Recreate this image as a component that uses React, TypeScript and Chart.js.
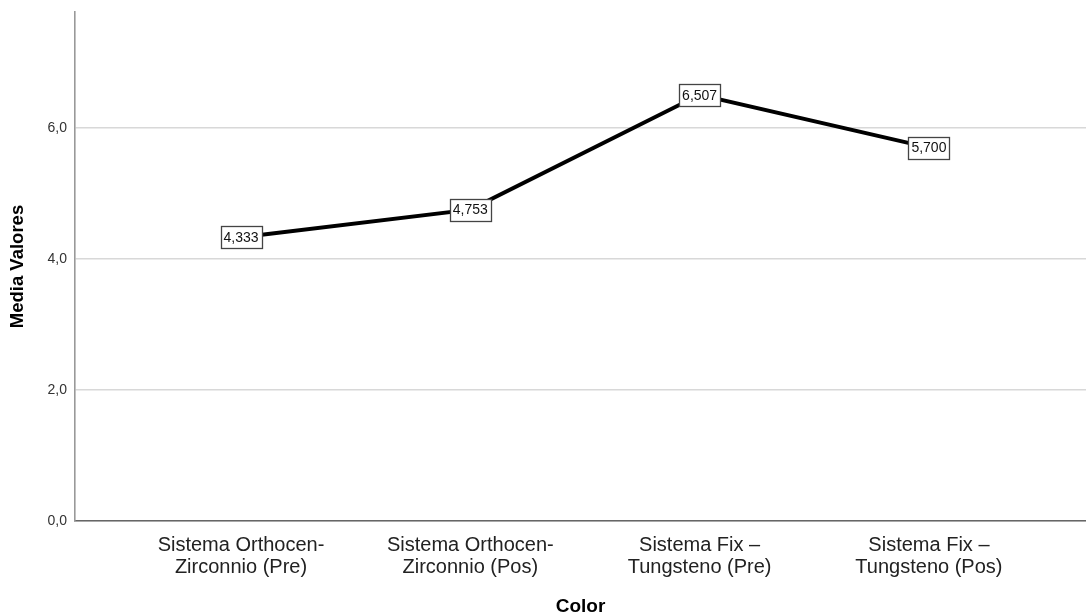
import React, { useEffect, useRef } from "react";
import { Chart, registerables } from "chart.js";

Chart.register(...registerables);

const categories: string[][] = [
  ["Sistema Orthocen-", "Zirconnio (Pre)"],
  ["Sistema Orthocen-", "Zirconnio (Pos)"],
  ["Sistema Fix –", "Tungsteno (Pre)"],
  ["Sistema Fix –", "Tungsteno (Pos)"],
];
const meanValues: number[] = [4.333, 4.753, 6.507, 5.7];
const yTickValues: number[] = [0, 2, 4, 6];
const xAxisTitle = "Color";
const yAxisTitle = "Media Valores";

const FONT = "'Liberation Sans', Arial, sans-serif";

const fmt = (v: number, d: number) => v.toFixed(d).replace(".", ",");

const labelBoxPlugin = {
  id: "labelBoxes",
  afterDatasetsDraw(chart: any) {
    const ctx = chart.ctx;
    const meta = chart.getDatasetMeta(0);
    ctx.save();
    ctx.font = `14px ${FONT}`;
    ctx.textAlign = "center";
    ctx.textBaseline = "middle";
    meta.data.forEach((pt: any, i: number) => {
      const text = fmt(meanValues[i], 3);
      const w = Math.ceil(ctx.measureText(text).width) + 5;
      const h = 22;
      const x = Math.round(pt.x - w / 2) + 0.5;
      const y = Math.round(pt.y - h / 2) + 0.5;
      ctx.fillStyle = "#ffffff";
      ctx.fillRect(x, y, w, h);
      ctx.strokeStyle = "#444444";
      ctx.lineWidth = 1.3;
      ctx.strokeRect(x, y, w, h);
      ctx.fillStyle = "#111111";
      ctx.fillText(text, pt.x, pt.y + 1);
    });
    ctx.restore();
  },
};

export default function App() {
  const ref = useRef<HTMLCanvasElement>(null);
  useEffect(() => {
    if (!ref.current) return;
    const chart = new Chart(ref.current, {
      type: "line",
      data: {
        datasets: [
          {
            data: meanValues.map((v, i) => ({ x: i, y: v })),
            borderColor: "#000000",
            borderWidth: 4,
            pointRadius: 0,
            tension: 0,
            fill: false,
          },
        ],
      },
      options: {
        animation: false,
        responsive: false,
        layout: { padding: { top: 12, right: 0, left: 0, bottom: 0 } },
        plugins: { legend: { display: false }, tooltip: { enabled: false } },
        scales: {
          x: {
            type: "linear",
            min: -0.724,
            max: 3.685,
            afterBuildTicks: (scale: any) => {
              scale.ticks = categories.map((_, i) => ({ value: i }));
            },
            afterFit: (scale: any) => {
              scale.height = 95;
              scale.paddingLeft = 0;
              scale.paddingRight = 0;
            },
            grid: { display: false, drawTicks: false },
            border: { color: "#666666", width: 1.5 },
            ticks: {
              padding: 13,
              autoSkip: false,
              maxRotation: 0,
              color: "#222222",
              font: { family: FONT, size: 20, lineHeight: 1.1 },
              callback: (v: any) => categories[Math.round(Number(v))] ?? "",
            },
            title: {
              display: true,
              text: xAxisTitle,
              color: "#000000",
              font: { family: FONT, size: 19, weight: "bold" },
              padding: { top: 0, bottom: -2 },
            },
          },
          y: {
            min: 0,
            max: 7.77,
            afterBuildTicks: (scale: any) => {
              scale.ticks = yTickValues.map((v) => ({ value: v }));
            },
            afterFit: (scale: any) => {
              scale.width = 75;
              scale.paddingTop = 0;
              scale.paddingBottom = 0;
            },
            grid: { color: "#d8d8d8", lineWidth: 1.6, drawTicks: false },
            border: { color: "#999999", width: 1.6 },
            ticks: {
              padding: 8,
              color: "#333333",
              font: { family: FONT, size: 14 },
              callback: (v: any) => fmt(Number(v), 1),
            },
            title: {
              display: true,
              text: yAxisTitle,
              color: "#000000",
              font: { family: FONT, size: 18.5, weight: "bold" },
              padding: { top: 7, bottom: 0 },
            },
          },
        },
      },
      plugins: [labelBoxPlugin],
    } as any);
    return () => chart.destroy();
  }, []);
  return (
    <div style={{ position: "fixed", left: 0, top: 0, width: 1086, height: 616, background: "#fff" }}>
      <canvas ref={ref} width={1086} height={616} />
    </div>
  );
}
